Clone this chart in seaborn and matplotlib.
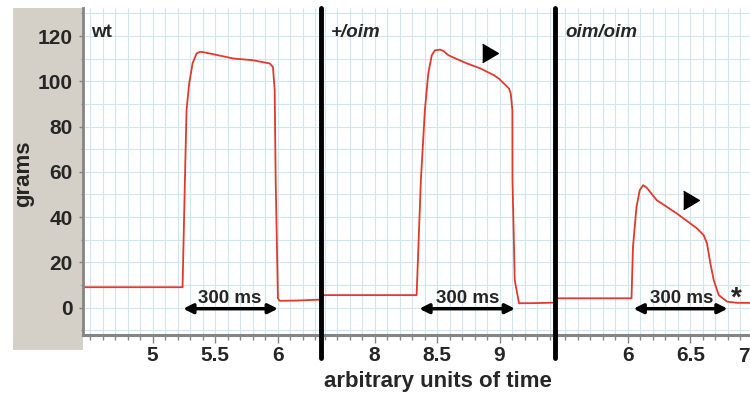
import numpy as np
import pandas as pd
import matplotlib
matplotlib.use('Agg')
import matplotlib.pyplot as plt
import seaborn as sns
from matplotlib.ticker import MultipleLocator, FixedLocator, FuncFormatter
from matplotlib.patches import Rectangle
from matplotlib.lines import Line2D

# ── DATA ──────────────────────────────────────────────────────────────────────
wt_t = [4.445, 5.239, 5.258, 5.271, 5.292, 5.319, 5.351, 5.377, 5.391, 5.484,
        5.643, 5.803, 5.936, 5.949, 5.962, 5.976, 5.984, 6.002, 6.015, 6.150, 6.333]
wt_g = [9.0, 9.0, 56.4, 87.3, 99.0, 107.9, 112.3, 113.0, 113.0, 112.0,
        110.1, 109.3, 107.9, 107.1, 106.4, 96.1, 56.3, 4.1, 3.0, 3.1, 3.5]

het_t = [7.568, 8.337, 8.371, 8.403, 8.430, 8.458, 8.484, 8.525, 8.551, 8.592,
         8.632, 8.740, 8.847, 8.955, 8.995, 9.049, 9.076, 9.090, 9.103, 9.104,
         9.122, 9.156, 9.300, 9.456]
het_g = [5.5, 5.5, 56.3, 87.2, 103.4, 111.5, 113.7, 114.0, 113.4, 111.5,
         110.5, 107.9, 105.7, 102.7, 101.2, 98.3, 96.8, 94.6, 87.2, 56.3,
         12.1, 1.9, 2.0, 2.2]

hom_t = [5.418, 6.030, 6.042, 6.070, 6.096, 6.123, 6.150, 6.231, 6.392, 6.554,
         6.607, 6.634, 6.661, 6.688, 6.728, 6.796, 6.876, 7.306]
hom_g = [4.1, 4.1, 26.9, 44.5, 51.9, 54.1, 53.1, 47.5, 41.6, 35.0,
         32.0, 28.4, 19.5, 12.1, 5.5, 2.6, 2.1, 2.0]

panel_names = ['wt', '+/oim', 'oim/oim']
panel_styles = ['normal', 'italic', 'italic']
xlims = [(4.445, 6.333), (7.568, 9.456), (5.418, 7.306)]
xtick_sets = [[5, 5.5, 6], [8, 8.5, 9], [6, 6.5, 7]]
ylim = (-11.9, 132.4)

arrow_spans = [(5.244, 6.002), (8.358, 9.124), (6.046, 6.799)]
arrow_y = -0.5
arrow_text = '300 ms'
arrow_text_x = [5.617, 8.746, 6.433]
arrow_text_y = 2.2
markers = [None, (8.924, 112.6), (6.504, 47.6)]
star_pt = (6.871, 0.9)

traces = [(wt_t, wt_g), (het_t, het_g), (hom_t, hom_g)]

# ── FIGURE ────────────────────────────────────────────────────────────────────
sns.set_style('white')
plt.rcParams['font.family'] = ['Liberation Sans', 'DejaVu Sans']

W, H = 750, 401
fig = plt.figure(figsize=(W / 100, H / 100), dpi=100)

def fx(px):
    return px / W

def fy(py):
    return 1 - py / H

red = '#e03a2c'
grid_col = '#cfe6ee'
axis_gray = '#858585'

# gray band behind the y axis labels
fig.add_artist(Rectangle((fx(13), fy(350)), fx(83) - fx(13), (350 - 8) / H,
                         transform=fig.transFigure, facecolor='#d4d0c8',
                         edgecolor='none', zorder=0))

# the last panel runs past the right edge; its "7" label is drawn separately
def tick_fmt(v, pos):
    if abs(v - 7) < 1e-9:
        return ''
    return f'{v:g}'

lefts = [83.3, 320.5, 555]
axes = []
for i, left in enumerate(lefts):
    ax = fig.add_axes([fx(left), fy(334.5), 236 / W, (334.5 - 8) / H])
    axes.append(ax)
    t, g = traces[i]
    df = pd.DataFrame({'t': t, 'g': g})
    sns.lineplot(data=df, x='t', y='g', ax=ax, color=red, lw=1.3,
                 sort=False, estimator=None)
    ax.set_xlim(*xlims[i])
    ax.set_ylim(*ylim)
    ax.set_xlabel('')
    ax.set_ylabel('')

    ax.xaxis.set_major_locator(FixedLocator(xtick_sets[i]))
    ax.xaxis.set_minor_locator(MultipleLocator(0.1))
    ax.xaxis.set_major_formatter(FuncFormatter(tick_fmt))
    ax.yaxis.set_major_locator(MultipleLocator(20))
    ax.yaxis.set_minor_locator(MultipleLocator(10))
    ax.set_axisbelow(True)
    ax.grid(True, which='both', color=grid_col, lw=0.8)

    for s in ['top', 'right']:
        ax.spines[s].set_visible(False)
    ax.spines['bottom'].set_color(axis_gray)
    ax.spines['bottom'].set_linewidth(2.2)
    ax.spines['left'].set_color(axis_gray)
    ax.spines['left'].set_linewidth(2.0)
    if i > 0:
        ax.spines['left'].set_visible(False)

    ax.tick_params(axis='x', which='major', direction='out', length=6, width=1,
                   color=axis_gray, pad=2.5, labelsize=15, bottom=True)
    ax.tick_params(axis='x', which='minor', direction='out', length=3.5, width=1,
                   color=axis_gray, bottom=True)
    for lab in ax.get_xticklabels():
        lab.set_fontweight('bold')
    if i == 0:
        ax.tick_params(axis='y', which='major', direction='out', length=3, width=1,
                       color=axis_gray, pad=4.5, labelsize=15, left=True)
        ax.tick_params(axis='y', which='minor', direction='out', length=1.5, width=1,
                       color=axis_gray, left=True)
        for lab in ax.get_yticklabels():
            lab.set_fontweight('bold')
    else:
        ax.tick_params(axis='y', which='both', left=False, labelleft=False)

    # genotype label
    ax.text(xlims[i][0] + [0.059, 0.084, 0.080][i], 119.5, panel_names[i],
            fontsize=13.5, fontweight='bold', style=panel_styles[i],
            ha='left', va='baseline')

    # 300 ms double arrow
    a0, a1 = arrow_spans[i]
    ax.annotate('', xy=(a1, arrow_y), xytext=(a0, arrow_y),
                arrowprops=dict(arrowstyle='<|-|>', lw=2.5, color='k',
                                mutation_scale=14, shrinkA=0, shrinkB=0))
    ax.text(arrow_text_x[i], arrow_text_y, arrow_text, fontsize=13.5,
            fontweight='bold', ha='center', va='baseline')

    if markers[i] is not None:
        mx, my = markers[i]
        ax.plot([mx], [my], marker=[(-0.85, -1), (0.85, 0), (-0.85, 1)],
                ms=13.2, color='k', mec='k', ls='none')

axes[2].text(star_pt[0], star_pt[1], '*', fontsize=20, fontweight='bold',
             ha='center', va='baseline')

# "7" at the right edge, kept inside the picture
fig.text(fx(749.5), fy(347.5), '7', fontsize=15, fontweight='bold',
         ha='right', va='top')

# thick black separators between the panels
for px in [320.5, 555]:
    fig.add_artist(Line2D([fx(px), fx(px)], [fy(8), fy(358)], color='k',
                          lw=3.5, zorder=5, transform=fig.transFigure))

fig.text(fx(437.5), fy(387), 'arbitrary units of time', fontsize=16,
         fontweight='bold', ha='center', va='baseline')
fig.text(fx(24), fy(173.5), 'grams', fontsize=16, fontweight='bold',
         rotation=90, ha='center', va='center')

fig.savefig('out.png', dpi=100)
plt.close(fig)
